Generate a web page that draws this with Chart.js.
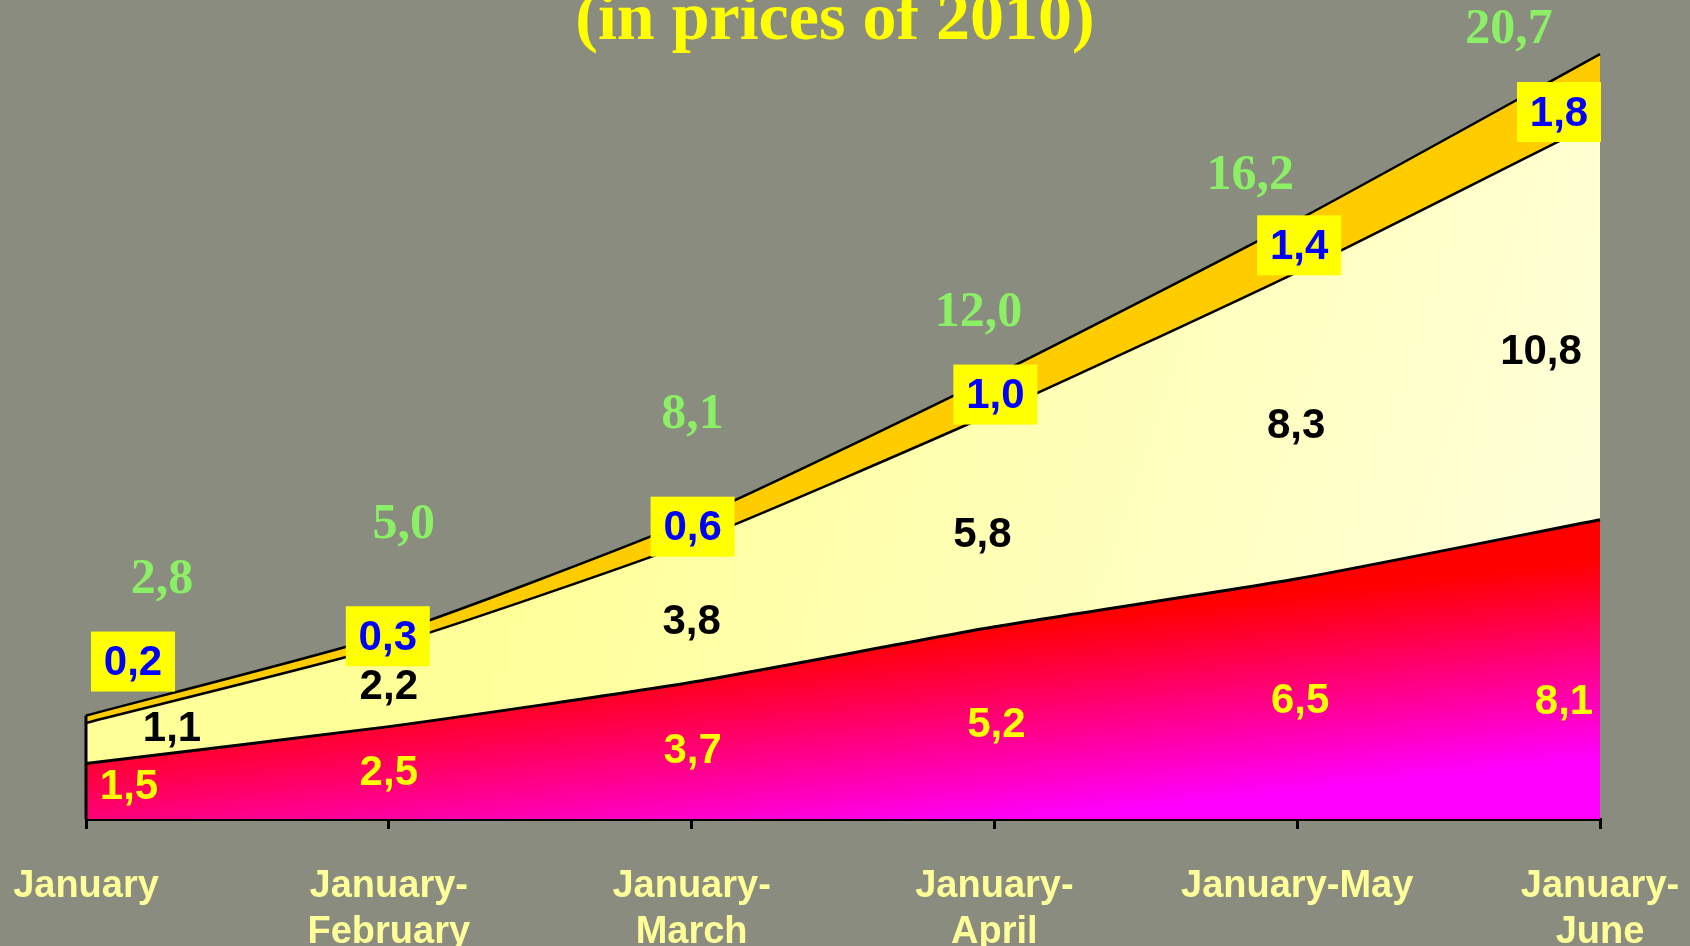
<!DOCTYPE html>
<html>
<head>
<meta charset="utf-8">
<script src="https://cdn.jsdelivr.net/npm/chart.js@4/dist/chart.umd.min.js"></script>
<style>
    html, body { margin: 0; padding: 0; background: #898c7f; overflow: hidden; }
    #wrap { position: relative; width: 1690px; height: 946px; }
</style>
</head>
<body>
<div id="wrap"><canvas id="chart" width="1690" height="946"></canvas></div>
<script>
// chart data
const periods = ['January', ['January-', 'February'], ['January-', 'March'], ['January-', 'April'], 'January-May', ['January-', 'June']];
const redValues = [1.5, 2.5, 3.7, 5.2, 6.5, 8.1];
const lightValues = [1.1, 2.2, 3.8, 5.8, 8.3, 10.8];
const orangeValues = [0.2, 0.3, 0.6, 1.0, 1.4, 1.8];
const totals = [2.8, 5.0, 8.1, 12.0, 16.2, 20.7];
const titleText = '(in prices of 2010)';

// label nudges (px) relative to the point each label belongs to
const totalShift = [[76, -135], [15, -109], [1, -105], [-16, -62], [-47, -44], [-91, -24]];
const boxShift = [[47, -54], [-1, 2], [1, 7], [1, 19], [2, 25], [-41, 58]];
const lightShift = [[86, -14], [0, 1], [0, 10], [-12, 16], [-1, 1], [-59, 32]];
const redShift = [[43, -4], [0, 1], [1, 1], [2, 3], [3, 3], [-36, 33]];

const fmt = v => v.toFixed(1).replace('.', ',');

function redFill(context) {
    const ctx = context.chart.ctx;
    // red under the top edge, turning magenta towards the bottom right
    const g = ctx.createLinearGradient(750, 652, 774, 872);
    g.addColorStop(0, '#ff0000');
    g.addColorStop(0.45, '#ff0080');
    g.addColorStop(0.9, '#ff00ff');
    g.addColorStop(1, '#ff00ff');
    return g;
}

function lightFill(context) {
    const ctx = context.chart.ctx;
    const g = ctx.createLinearGradient(600, 300, 1600, 640);
    g.addColorStop(0, '#ffff99');
    g.addColorStop(1, '#ffffdc');
    return g;
}

const labelPlugin = {
    id: 'labels',
    afterDatasetsDraw(chart) {
        const { ctx, scales: { x, y } } = chart;
        ctx.save();

        // left edge of the stacked area
        ctx.strokeStyle = '#000';
        ctx.lineWidth = 3;
        ctx.beginPath();
        ctx.moveTo(x.getPixelForValue(0), y.getPixelForValue(0));
        ctx.lineTo(x.getPixelForValue(0), y.getPixelForValue(totals[0]));
        ctx.stroke();

        ctx.textAlign = 'center';
        ctx.textBaseline = 'middle';
        periods.forEach((p, i) => {
            const px = x.getPixelForValue(i);

            // red band values
            ctx.font = 'bold 42px "Liberation Sans", Arial, sans-serif';
            ctx.fillStyle = '#ffff00';
            ctx.fillText(fmt(redValues[i]), px + redShift[i][0], y.getPixelForValue(redValues[i] / 2) + redShift[i][1]);

            // light band values
            ctx.fillStyle = '#000';
            ctx.fillText(fmt(lightValues[i]), px + lightShift[i][0], y.getPixelForValue(redValues[i] + lightValues[i] / 2) + lightShift[i][1]);

            // orange band values in yellow boxes
            const top = y.getPixelForValue(totals[i]);
            const bx = px + boxShift[i][0], by = top + boxShift[i][1];
            ctx.fillStyle = '#ffff00';
            ctx.fillRect(bx - 42, by - 30, 84, 60);
            ctx.font = 'bold 42px "Liberation Sans", Arial, sans-serif';
            ctx.fillStyle = '#0000ff';
            ctx.fillText(fmt(orangeValues[i]), bx, by + 2);

            // totals
            ctx.font = 'bold 50px "Liberation Serif", "DejaVu Serif", serif';
            ctx.fillStyle = '#8cf066';
            ctx.fillText(fmt(totals[i]), px + totalShift[i][0], top + totalShift[i][1]);
        });

        // title (top line is cut off by the frame)
        ctx.font = 'bold 68px "Liberation Serif", "DejaVu Serif", serif';
        ctx.fillStyle = '#ffff00';
        ctx.textBaseline = 'alphabetic';
        ctx.fillText(titleText, 835, 39);
        ctx.restore();
    }
};

const common = { pointRadius: 0, pointHoverRadius: 0, tension: 0.2, borderColor: '#000' };

new Chart(document.getElementById('chart').getContext('2d'), {
    type: 'line',
    data: {
        labels: periods,
        datasets: [
            { ...common, label: 'red', data: redValues, fill: 'origin', backgroundColor: redFill, borderWidth: 3 },
            { ...common, label: 'light', data: lightValues, fill: '-1', backgroundColor: lightFill, borderWidth: 2.5 },
            { ...common, label: 'orange', data: orangeValues, fill: '-1', backgroundColor: '#ffcc00', borderWidth: 2.5 }
        ]
    },
    options: {
        responsive: false,
        animation: false,
        layout: { padding: { left: 86, right: 90, top: 6, bottom: 0 } },
        plugins: {
            legend: { display: false },
            tooltip: { enabled: false },
            title: { display: false }
        },
        scales: {
            x: {
                offset: false,
                grid: { drawOnChartArea: false, color: '#000', lineWidth: 3, tickLength: 10, tickColor: '#000' },
                border: { display: true, color: '#000', width: 3 },
                ticks: {
                    color: '#ffff99',
                    font: { family: '"Liberation Sans", Arial, sans-serif', size: 38, weight: 'bold', lineHeight: 1.2 },
                    padding: 35,
                    maxRotation: 0,
                    autoSkip: false
                },
                afterFit(scale) {
                    scale.height = 127;
                    scale.paddingLeft = 0;
                    scale.paddingRight = 0;
                }
            },
            y: {
                display: false,
                stacked: true,
                min: 0,
                max: 22
            }
        }
    },
    plugins: [labelPlugin]
});
</script>
</body>
</html>
